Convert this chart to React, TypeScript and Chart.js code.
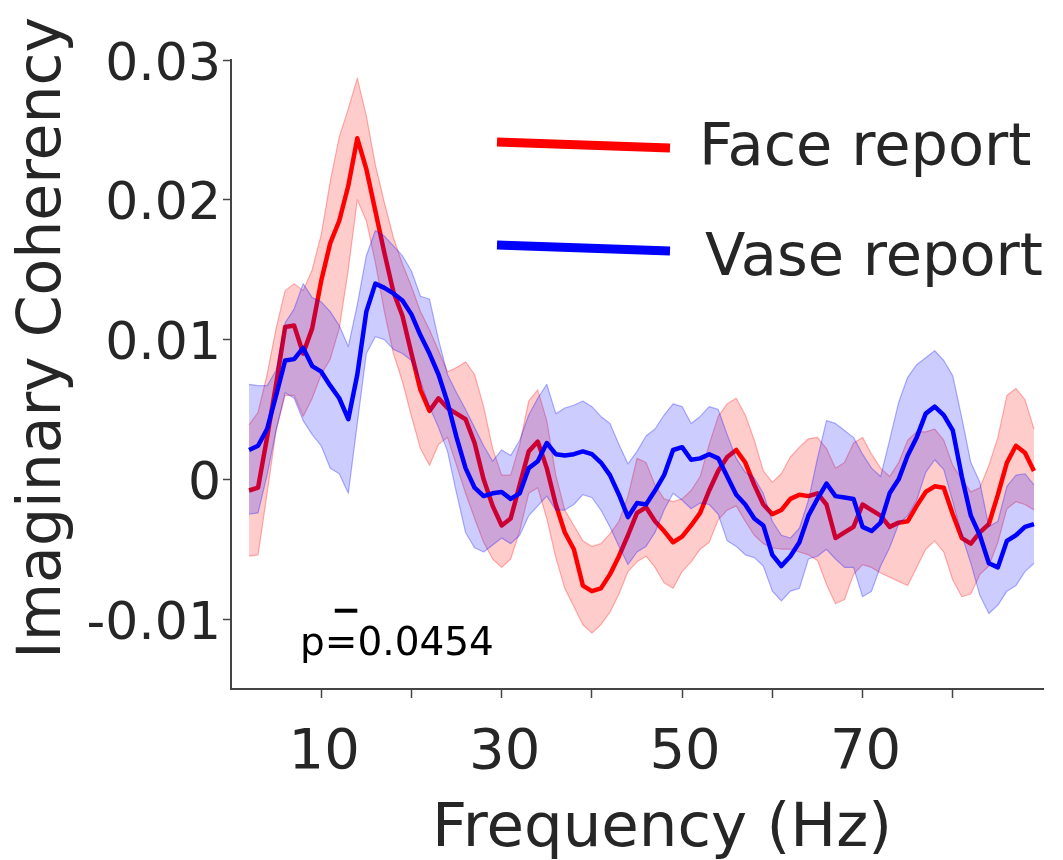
import React, { useEffect, useRef } from "react";
import { Chart, registerables } from "chart.js";

Chart.register(...registerables);

// ---------------- data ----------------
const frequencies = [
  2, 3, 4, 5, 6, 7, 8, 9, 10, 11,
  12, 13, 14, 15, 16, 17, 18, 19, 20, 21,
  22, 23, 24, 25, 26, 27, 28, 29, 30, 31,
  32, 33, 34, 35, 36, 37, 38, 39, 40, 41,
  42, 43, 44, 45, 46, 47, 48, 49, 50, 51,
  52, 53, 54, 55, 56, 57, 58, 59, 60, 61,
  62, 63, 64, 65, 66, 67, 68, 69, 70, 71,
  72, 73, 74, 75, 76, 77, 78, 79, 80, 81,
  82, 83, 84, 85, 86, 87, 88, 89,
];

const faceMean = [
  -0.0008, -0.0006, 0.0030, 0.0068, 0.0109, 0.0110, 0.0090, 0.0108, 0.0142, 0.0169,
  0.0185, 0.0210, 0.0244, 0.0222, 0.0192, 0.0162, 0.0134, 0.0117, 0.0090, 0.0064,
  0.0049, 0.0058, 0.0051, 0.0047, 0.0043, 0.0026, 0.0000, -0.0019, -0.0033, -0.0028,
  -0.0004, 0.0020, 0.0027, 0.0008, -0.0018, -0.0038, -0.0050, -0.0076, -0.0080, -0.0078,
  -0.0068, -0.0055, -0.0040, -0.0024, -0.0020, -0.0030, -0.0037, -0.0045, -0.0041, -0.0033,
  -0.0024, -0.0008, 0.0006, 0.0016, 0.0021, 0.0012, -0.0004, -0.0018, -0.0025, -0.0022,
  -0.0014, -0.0011, -0.0012, -0.0010, -0.0018, -0.0042, -0.0038, -0.0034, -0.0018, -0.0022,
  -0.0026, -0.0034, -0.0031, -0.0030, -0.0019, -0.0009, -0.0005, -0.0006, -0.0025, -0.0042,
  -0.0046, -0.0038, -0.0032, -0.0011, 0.0012, 0.0024, 0.0019, 0.0006,
];

const faceUpper = [
  0.0039, 0.0048, 0.0075, 0.0108, 0.0135, 0.0140, 0.0135, 0.0150, 0.0175, 0.0213,
  0.0245, 0.0265, 0.0287, 0.0260, 0.0225, 0.0198, 0.0173, 0.0154, 0.0138, 0.0120,
  0.0107, 0.0092, 0.0077, 0.0080, 0.0084, 0.0075, 0.0052, 0.0022, 0.0003, 0.0003,
  0.0025, 0.0056, 0.0064, 0.0042, 0.0003, -0.0022, -0.0033, -0.0044, -0.0048, -0.0046,
  -0.0039, -0.0030, -0.0012, 0.0015, 0.0012, -0.0004, -0.0014, -0.0016, -0.0014, -0.0008,
  0.0002, 0.0025, 0.0045, 0.0054, 0.0058, 0.0046, 0.0028, 0.0006, -0.0002, 0.0004,
  0.0016, 0.0023, 0.0029, 0.0030, 0.0022, 0.0008, 0.0012, 0.0026, 0.0030, 0.0018,
  0.0008, 0.0002, 0.0012, 0.0028, 0.0034, 0.0034, 0.0036, 0.0028, 0.0010, 0.0000,
  -0.0009, -0.0006, 0.0010, 0.0030, 0.0060, 0.0065, 0.0057, 0.0036,
];

const faceLower = [
  -0.0055, -0.0054, -0.0010, 0.0035, 0.0060, 0.0060, 0.0045, 0.0058, 0.0075, 0.0086,
  0.0108, 0.0150, 0.0200, 0.0185, 0.0155, 0.0120, 0.0090, 0.0070, 0.0045, 0.0022,
  0.0010, 0.0025, 0.0030, 0.0010, -0.0010, -0.0028, -0.0045, -0.0057, -0.0063, -0.0057,
  -0.0037, -0.0010, -0.0006, -0.0028, -0.0056, -0.0078, -0.0091, -0.0104, -0.0110, -0.0104,
  -0.0095, -0.0082, -0.0066, -0.0059, -0.0055, -0.0063, -0.0074, -0.0078, -0.0066, -0.0059,
  -0.0050, -0.0045, -0.0029, -0.0022, -0.0019, -0.0030, -0.0040, -0.0046, -0.0049, -0.0050,
  -0.0050, -0.0052, -0.0054, -0.0058, -0.0075, -0.0089, -0.0086, -0.0068, -0.0061, -0.0063,
  -0.0067, -0.0070, -0.0073, -0.0076, -0.0063, -0.0050, -0.0044, -0.0052, -0.0072, -0.0084,
  -0.0082, -0.0068, -0.0062, -0.0045, -0.0021, -0.0016, -0.0018, -0.0022,
];

const vaseMean = [
  0.0021, 0.0024, 0.0036, 0.0060, 0.0085, 0.0086, 0.0094, 0.0081, 0.0077, 0.0067,
  0.0058, 0.0043, 0.0075, 0.0120, 0.0140, 0.0137, 0.0133, 0.0128, 0.0118, 0.0103,
  0.0090, 0.0075, 0.0055, 0.0030, 0.0008, -0.0006, -0.0012, -0.0010, -0.0009, -0.0014,
  -0.0010, 0.0008, 0.0013, 0.0026, 0.0018, 0.0017, 0.0018, 0.0020, 0.0018, 0.0012,
  0.0003, -0.0011, -0.0027, -0.0017, -0.0018, -0.0008, 0.0003, 0.0021, 0.0023, 0.0014,
  0.0015, 0.0018, 0.0015, 0.0002, -0.0011, -0.0018, -0.0028, -0.0033, -0.0054, -0.0062,
  -0.0055, -0.0045, -0.0026, -0.0014, -0.0003, -0.0012, -0.0013, -0.0014, -0.0034, -0.0037,
  -0.0031, -0.0010, 0.0000, 0.0017, 0.0030, 0.0047, 0.0052, 0.0046, 0.0035, 0.0002,
  -0.0026, -0.0040, -0.0060, -0.0063, -0.0044, -0.0040, -0.0034, -0.0032,
];

const vaseUpper = [
  0.0068, 0.0067, 0.0067, 0.0078, 0.0112, 0.0122, 0.0140, 0.0130, 0.0127, 0.0120,
  0.0110, 0.0095, 0.0125, 0.0160, 0.0178, 0.0174, 0.0167, 0.0160, 0.0149, 0.0131,
  0.0129, 0.0100, 0.0075, 0.0062, 0.0050, 0.0037, 0.0024, 0.0013, 0.0021, 0.0017,
  0.0028, 0.0046, 0.0058, 0.0068, 0.0047, 0.0051, 0.0053, 0.0056, 0.0052, 0.0045,
  0.0040, 0.0025, 0.0011, 0.0020, 0.0031, 0.0036, 0.0046, 0.0054, 0.0052, 0.0040,
  0.0045, 0.0052, 0.0050, 0.0032, 0.0015, 0.0005, 0.0001, -0.0010, -0.0030, -0.0040,
  -0.0042, -0.0035, -0.0015, 0.0015, 0.0042, 0.0040, 0.0035, 0.0030, 0.0018, 0.0008,
  0.0002, 0.0028, 0.0055, 0.0073, 0.0082, 0.0087, 0.0092, 0.0085, 0.0074, 0.0044,
  0.0012, -0.0002, -0.0034, -0.0030, -0.0005, 0.0003, 0.0004, -0.0004,
];

const vaseLower = [
  -0.0025, -0.0024, 0.0003, 0.0035, 0.0062, 0.0058, 0.0042, 0.0032, 0.0024, 0.0008,
  0.0004, -0.0010, 0.0040, 0.0090, 0.0102, 0.0100, 0.0093, 0.0090, 0.0085, 0.0070,
  0.0052, 0.0037, 0.0020, -0.0010, -0.0038, -0.0049, -0.0052, -0.0047, -0.0042, -0.0046,
  -0.0040, -0.0026, -0.0019, -0.0012, -0.0022, -0.0022, -0.0018, -0.0011, -0.0013, -0.0022,
  -0.0034, -0.0048, -0.0061, -0.0052, -0.0048, -0.0038, -0.0022, -0.0010, -0.0015, -0.0021,
  -0.0017, -0.0018, -0.0025, -0.0044, -0.0048, -0.0054, -0.0056, -0.0062, -0.0080, -0.0087,
  -0.0080, -0.0078, -0.0057, -0.0055, -0.0050, -0.0057, -0.0063, -0.0063, -0.0084, -0.0080,
  -0.0062, -0.0049, -0.0032, -0.0026, -0.0015, 0.0005, 0.0014, 0.0007, -0.0016, -0.0040,
  -0.0060, -0.0083, -0.0096, -0.0090, -0.0080, -0.0076, -0.0066, -0.0060,
];

const seriesNames = ["Face report", "Vase report"];
const xTickValues = [10, 20, 30, 40, 50, 60, 70, 80];
const xLabeledTicks = [10, 30, 50, 70];
const yTickValues = [-0.01, 0, 0.01, 0.02, 0.03];
const yTickLabels = ["-0.01", "0", "0.01", "0.02", "0.03"];
const sigStart = 11.5;
const sigEnd = 14;
const sigLevel = -0.0094;
const pValueText = "p=0.0454";
const xTitle = "Frequency (Hz)";
const yTitle = "Imaginary Coherency";

// ---------------- styles ----------------
const FONT = '"DejaVu Sans", Verdana, sans-serif';
const TEXT = "#262626";
const AXIS = "#444444";
const RED = "#ff0000";
const BLUE = "#0000ff";

const toPoints = (vals: number[]) =>
  frequencies.map((f, i) => ({ x: f, y: vals[i] }));

const overlayPlugin = {
  id: "overlay",
  afterDraw(chart: any) {
    const ctx = chart.ctx as CanvasRenderingContext2D;
    ctx.save();
    ctx.fillStyle = TEXT;

    // y-axis title
    ctx.save();
    ctx.translate(60, 338);
    ctx.rotate(-Math.PI / 2);
    ctx.font = `60px ${FONT}`;
    ctx.textAlign = "center";
    ctx.textBaseline = "alphabetic";
    ctx.fillText(yTitle, 0, 0);
    ctx.restore();

    // x-axis title
    ctx.font = `61px ${FONT}`;
    ctx.textAlign = "center";
    ctx.textBaseline = "alphabetic";
    ctx.fillText(xTitle, 662, 846);

    // legend
    ctx.lineCap = "butt";
    ctx.lineWidth = 9;
    ctx.strokeStyle = RED;
    ctx.beginPath();
    ctx.moveTo(497, 142);
    ctx.lineTo(670, 148);
    ctx.stroke();
    ctx.strokeStyle = BLUE;
    ctx.beginPath();
    ctx.moveTo(497, 245);
    ctx.lineTo(670, 251);
    ctx.stroke();
    ctx.font = `59px ${FONT}`;
    ctx.textAlign = "left";
    ctx.fillText(seriesNames[0], 699, 165);
    ctx.fillText(seriesNames[1], 705, 275);

    // p-value annotation
    ctx.font = `39px ${FONT}`;
    ctx.fillStyle = "#000000";
    ctx.fillText(pValueText, 300, 655);

    ctx.restore();
  },
};

export default function App() {
  const canvasRef = useRef<HTMLCanvasElement | null>(null);

  useEffect(() => {
    if (!canvasRef.current) return;
    const lineBase = { pointRadius: 0, tension: 0, borderJoinStyle: "round" as const };
    const chart = new Chart(canvasRef.current, {
      type: "line",
      data: {
        datasets: [
          {
            label: seriesNames[1],
            data: toPoints(vaseMean),
            borderColor: BLUE,
            borderWidth: 4.5,
            fill: false,
            ...lineBase,
          },
          {
            label: "vase upper",
            data: toPoints(vaseUpper),
            borderColor: "rgba(0,0,255,0.3)",
            borderWidth: 1.2,
            backgroundColor: "rgba(0,0,255,0.2)",
            fill: "+1",
            ...lineBase,
          },
          {
            label: "vase lower",
            data: toPoints(vaseLower),
            borderColor: "rgba(0,0,255,0.3)",
            borderWidth: 1.2,
            fill: false,
            ...lineBase,
          },
          {
            label: seriesNames[0],
            data: toPoints(faceMean),
            borderColor: RED,
            borderWidth: 4.5,
            fill: false,
            ...lineBase,
          },
          {
            label: "face upper",
            data: toPoints(faceUpper),
            borderColor: "rgba(255,0,0,0.3)",
            borderWidth: 1.2,
            backgroundColor: "rgba(255,0,0,0.2)",
            fill: "+1",
            ...lineBase,
          },
          {
            label: "face lower",
            data: toPoints(faceLower),
            borderColor: "rgba(255,0,0,0.3)",
            borderWidth: 1.2,
            fill: false,
            ...lineBase,
          },
          {
            label: "significance",
            data: [
              { x: sigStart, y: sigLevel },
              { x: sigEnd, y: sigLevel },
            ],
            borderColor: "#000000",
            borderWidth: 4,
            borderCapStyle: "butt",
            fill: false,
            pointRadius: 0,
          },
        ],
      },
      options: {
        responsive: false,
        animation: false,
        devicePixelRatio: 1,
        layout: { padding: { left: 0, right: 20, top: 60, bottom: 0 } },
        plugins: {
          legend: { display: false },
          tooltip: { enabled: false },
        },
        scales: {
          x: {
            type: "linear",
            min: 0,
            max: 90,
            afterBuildTicks: (axis: any) => {
              axis.ticks = xTickValues.map((v) => ({ value: v }));
            },
            afterFit: (scale: any) => {
              scale.height = 171;
            },
            ticks: {
              autoSkip: false,
              maxRotation: 0,
              padding: 22,
              labelOffset: 3,
              color: TEXT,
              font: { family: FONT, size: 56 },
              callback: (v: any) => (xLabeledTicks.includes(Number(v)) ? String(v) : ""),
            },
            grid: {
              display: true,
              drawOnChartArea: false,
              drawTicks: true,
              tickLength: 9,
              tickWidth: 1.5,
              tickColor: AXIS,
            },
            border: { display: true, color: AXIS, width: 2 },
          },
          y: {
            type: "linear",
            min: -0.015,
            max: 0.03,
            afterBuildTicks: (axis: any) => {
              axis.ticks = yTickValues.map((v) => ({ value: v }));
            },
            afterFit: (scale: any) => {
              scale.width = 231;
            },
            ticks: {
              padding: 2,
              labelOffset: 6,
              color: TEXT,
              font: { family: FONT, size: 52 },
              callback: (v: any) => {
                const idx = yTickValues.findIndex((t) => Math.abs(t - Number(v)) < 1e-9);
                return idx >= 0 ? yTickLabels[idx] : "";
              },
            },
            grid: {
              display: true,
              drawOnChartArea: false,
              drawTicks: true,
              tickLength: 8,
              tickWidth: 1.5,
              tickColor: AXIS,
            },
            border: { display: true, color: AXIS, width: 2 },
          },
        },
      },
      plugins: [overlayPlugin],
    } as any);
    return () => chart.destroy();
  }, []);

  return (
    <div style={{ position: "absolute", left: 0, top: 0, width: 1063, height: 860, background: "#ffffff" }}>
      <canvas ref={canvasRef} width={1063} height={860} style={{ width: 1063, height: 860 }} />
    </div>
  );
}
